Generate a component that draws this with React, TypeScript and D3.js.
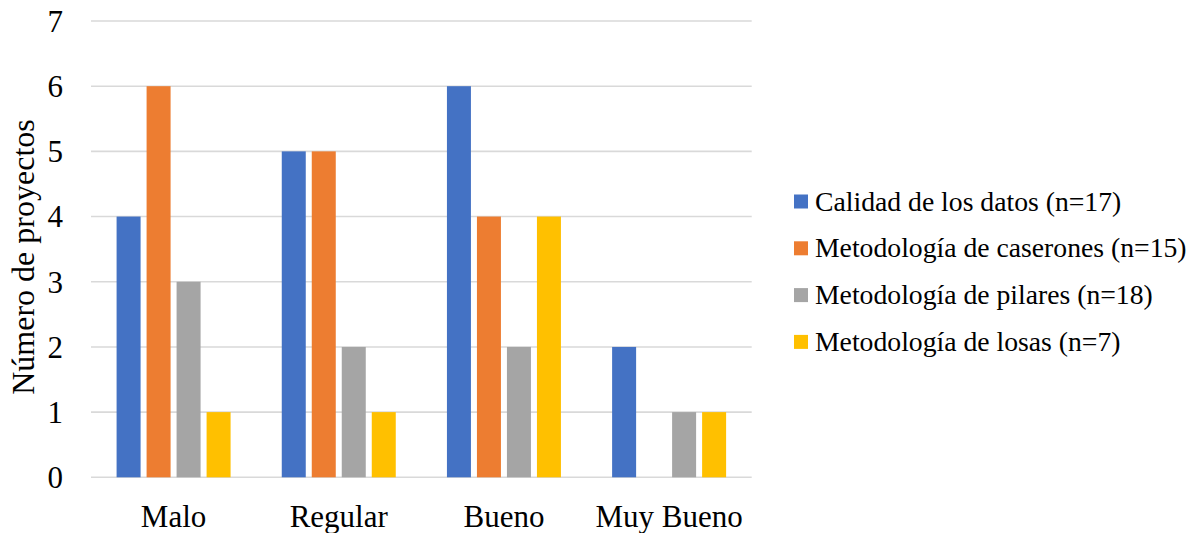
import React from "react";
import * as d3 from "d3";

const categories = ["Malo", "Regular", "Bueno", "Muy Bueno"];
const seriesNames = [
  "Calidad de los datos (n=17)",
  "Metodología de caserones (n=15)",
  "Metodología de pilares (n=18)",
  "Metodología de losas (n=7)",
];
const calidad = [4, 5, 6, 2];
const caserones = [6, 5, 4, 0];
const pilares = [3, 2, 2, 1];
const losas = [1, 1, 4, 1];
const yTicks = [0, 1, 2, 3, 4, 5, 6, 7];
const colors = ["#4472C4", "#ED7D31", "#A5A5A5", "#FFC000"];

const W = 1201;
const H = 533;
const serif = { fontFamily: "Liberation Serif" };

export default function App() {
  const series = [calidad, caserones, pilares, losas];
  const left = 91;
  const right = 751.7;
  const top = 21;
  const bottom = 477.3;

  const x0 = d3.scaleBand().domain(categories).range([left, right]).padding(0);
  const x1 = d3
    .scaleBand()
    .domain(d3.range(series.length).map(String))
    .range([-60, 60])
    .paddingInner(0.2)
    .paddingOuter(0.1);
  const y = d3.scaleLinear().domain([0, 7]).range([bottom, top]);

  return (
    <svg
      width={W}
      height={H}
      style={{ position: "absolute", left: 0, top: 0, background: "#fff" }}
    >
      {yTicks.map((t) => (
        <g key={t}>
          <line x1={left} x2={right} y1={y(t)} y2={y(t)} stroke="#D9D9D9" strokeWidth={1.6} />
          <text x={63} y={y(t)} dy="0.35em" textAnchor="end" fontSize={31} fill="#000" style={serif}>
            {t}
          </text>
        </g>
      ))}
      {categories.map((c, ci) => {
        const cx = (x0(c) as number) + x0.bandwidth() / 2;
        return (
          <g key={c}>
            {series.map((s, si) =>
              s[ci] > 0 ? (
                <rect
                  key={si}
                  x={cx + (x1(String(si)) as number)}
                  y={y(s[ci])}
                  width={x1.bandwidth()}
                  height={y(0) - y(s[ci])}
                  fill={colors[si]}
                />
              ) : null
            )}
            <text x={cx} y={527} textAnchor="middle" fontSize={31} fill="#000" style={serif}>
              {c}
            </text>
          </g>
        );
      })}
      <text
        transform="translate(33.5, 257) rotate(-90)"
        textAnchor="middle"
        fontSize={32}
        fill="#000"
        style={serif}
      >
        Número de proyectos
      </text>
      {seriesNames.map((n, i) => {
        const cy = 201.5 + i * 46.8;
        return (
          <g key={n}>
            <rect x={794} y={cy - 7} width={14} height={14} fill={colors[i]} />
            <text x={815} y={cy} dy="0.33em" fontSize={27.7} fill="#000" style={serif}>
              {n}
            </text>
          </g>
        );
      })}
    </svg>
  );
}
